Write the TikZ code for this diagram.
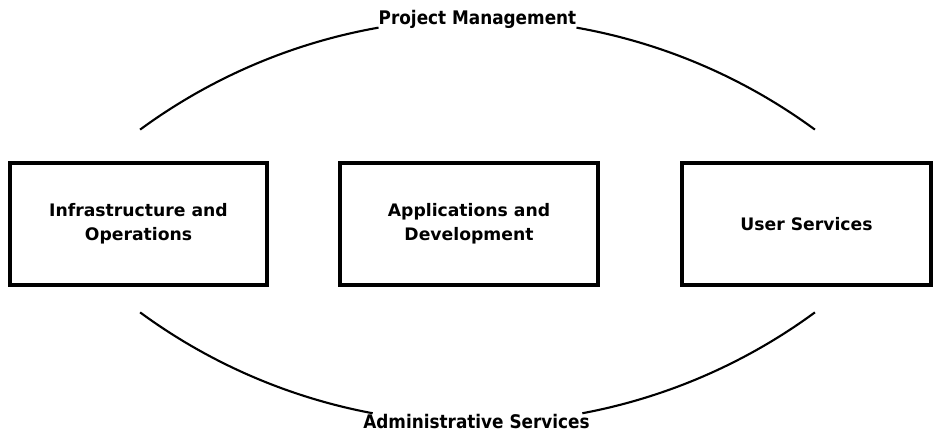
\documentclass[tikz,border=0pt]{standalone}
\usepackage{fontspec}
\setmainfont{DejaVu Sans}
\newfontfamily\arcfont{DejaVu Sans Condensed}
\usetikzlibrary{calc,positioning}

\tikzset{
    unit/.style={draw=black, line width=2.6pt, minimum width=257*0.03cm, minimum height=122*0.03cm,
        align=center, inner sep=0pt, font=\fontsize{14.7}{20.5}\selectfont\bfseries},
    ring/.style={draw=black, line width=1.8pt},
    ringlabel/.style={inner sep=0pt, font=\arcfont\fontsize{16}{18}\selectfont\bfseries}
}

\begin{document}
\begin{tikzpicture}[x=0.03cm,y=0.03cm]
    \useasboundingbox (0,0) rectangle (933,433);
    \pgfmathsetmacro{\R}{570}

    % the three units
    \node[unit] (infra) at (138.5,209) {Infrastructure and\\Operations};
    \node[unit, minimum width=258*0.03cm] (apps) at (469,209) {Applications and\\Development};
    \node[unit, minimum width=249*0.03cm] (user) at (806.5,209) {User Services};

    % upper ring
    \coordinate (top) at (477.5,-156);
    \node[ringlabel] (pm) at ($(top)+(0,\R)$) {Project Management};
    \coordinate (pmA) at ($(top)+(126.3:\R)$);
    \coordinate (pmB) at ($(top)+(80:\R)$);
    \draw[ring] (pmA) arc[start angle=126.3, end angle=100, radius=\R];
    \draw[ring] (pmB) arc[start angle=80, end angle=53.7, radius=\R];

    % lower ring
    \coordinate (bot) at (477.5,580);
    \node[ringlabel] (as) at (476.5,11) {Administrative Services};
    \coordinate (asA) at ($(bot)+(233.7:\R)$);
    \coordinate (asB) at ($(bot)+(280.6:\R)$);
    \draw[ring] (asA) arc[start angle=233.7, end angle=259.4, radius=\R];
    \draw[ring] (asB) arc[start angle=280.6, end angle=306.3, radius=\R];

\end{tikzpicture}
\end{document}
